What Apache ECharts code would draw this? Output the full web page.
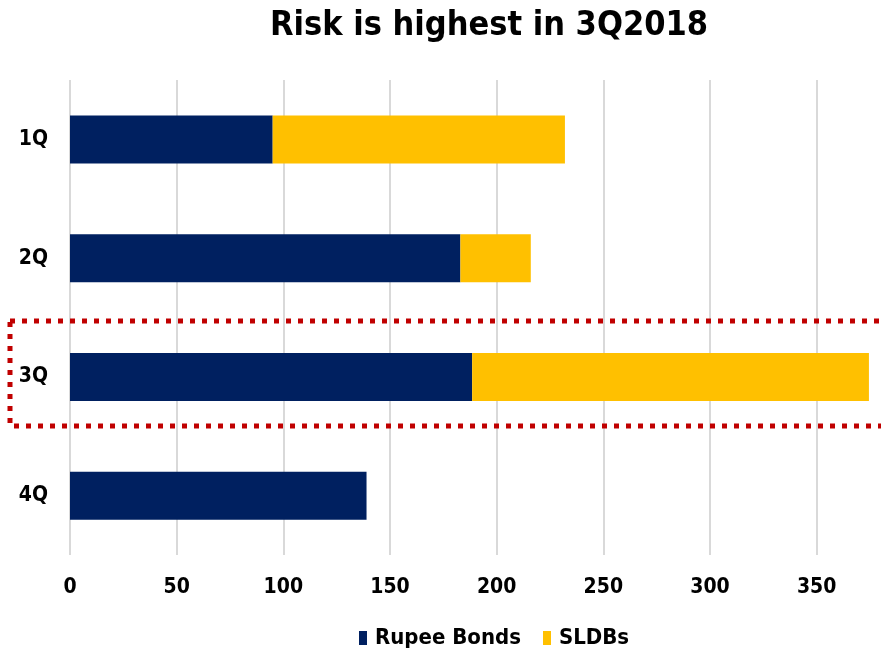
<!DOCTYPE html>
<html>
<head>
<meta charset="utf-8">
<script src="https://cdn.jsdelivr.net/npm/echarts@6/dist/echarts.min.js"></script>
<style>html,body{margin:0;padding:0;background:#fff}#c{width:881px;height:648px}</style>
</head>
<body>
<div id="c"></div>
<script>
const categories = ['1Q', '2Q', '3Q', '4Q'];
const rupeeBonds = [95, 183, 188.5, 139];
const sldbs = [137, 33, 186, 0];
const xTicks = [0, 50, 100, 150, 200, 250, 300, 350];

const FONT = '"DejaVu Sans Condensed", "DejaVu Sans", sans-serif';
const chart = echarts.init(document.getElementById('c'));
chart.setOption({
  animation: false,
  title: {
    text: 'Risk is highest in 3Q2018',
    left: 484, top: 4, textAlign: 'center',
    textStyle: { fontFamily: FONT, fontWeight: 'bold', fontSize: 34, color: '#000' }
  },
  legend: {
    left: 354, top: 622,
    itemWidth: 8, itemHeight: 14, itemGap: 22,
    icon: 'rect',
    textStyle: { fontFamily: FONT, fontWeight: 'bold', fontSize: 22, color: '#000', padding: [0, 0, 0, 3] },
    data: ['Rupee Bonds', 'SLDBs']
  },
  grid: { left: 70, right: 11, top: 80, bottom: 93, containLabel: false },
  xAxis: {
    type: 'value', min: 0, max: 375, interval: 50,
    axisLine: { show: false }, axisTick: { show: false },
    splitLine: { showMaxLine: false, lineStyle: { color: '#d9d9d9', width: 2 } },
    axisLabel: {
      margin: 22, showMaxLabel: false,
      fontFamily: FONT, fontWeight: 'bold', fontSize: 21, color: '#000',
      formatter: v => xTicks.includes(v) ? String(v) : ''
    }
  },
  yAxis: {
    type: 'category', data: categories, inverse: true,
    axisLine: { show: false }, axisTick: { show: false },
    axisLabel: { margin: 22, fontFamily: FONT, fontWeight: 'bold', fontSize: 21, color: '#000' }
  },
  series: [
    { name: 'Rupee Bonds', type: 'bar', stack: 's', data: rupeeBonds, barWidth: 48, itemStyle: { color: '#002060' } },
    { name: 'SLDBs', type: 'bar', stack: 's', data: sldbs, barWidth: 48, itemStyle: { color: '#FFC000' } }
  ],
  graphic: [{
    type: 'rect', z: 100,
    shape: { x: 10, y: 321, width: 900, height: 105 },
    style: { fill: 'none', stroke: '#C00000', lineWidth: 5, lineDash: [5, 7] }
  }]
});
</script>
</body>
</html>
